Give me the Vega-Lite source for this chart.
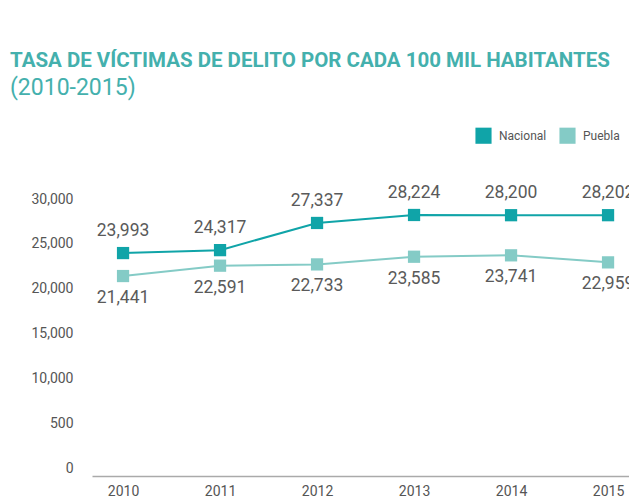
{
  "$schema": "https://vega.github.io/schema/vega-lite/v6.json",
  "width": 537,
  "height": 277,
  "autosize": "none",
  "padding": {"left": 92, "top": 199, "right": 0, "bottom": 26},
  "background": "white",
  "title": {
    "text": "TASA DE VÍCTIMAS DE DELITO POR CADA 100 MIL HABITANTES",
    "subtitle": "(2010-2015)",
    "anchor": "start",
    "frame": "group",
    "dx": -82,
    "offset": 27,
    "font": "Roboto",
    "fontSize": 20.5,
    "fontWeight": "bold",
    "color": "#44b0ad",
    "subtitleFont": "Roboto",
    "subtitleFontSize": 23,
    "subtitleColor": "#44b0ad",
    "subtitlePadding": 6
  },
  "data": {
    "values": [
      {"year": 2010, "serie": "Nacional", "value": 23993},
      {"year": 2011, "serie": "Nacional", "value": 24317},
      {"year": 2012, "serie": "Nacional", "value": 27337},
      {"year": 2013, "serie": "Nacional", "value": 28224},
      {"year": 2014, "serie": "Nacional", "value": 28200},
      {"year": 2015, "serie": "Nacional", "value": 28202},
      {"year": 2010, "serie": "Puebla", "value": 21441},
      {"year": 2011, "serie": "Puebla", "value": 22591},
      {"year": 2012, "serie": "Puebla", "value": 22733},
      {"year": 2013, "serie": "Puebla", "value": 23585},
      {"year": 2014, "serie": "Puebla", "value": 23741},
      {"year": 2015, "serie": "Puebla", "value": 22959}
    ]
  },
  "encoding": {
    "x": {
      "field": "year",
      "type": "quantitative",
      "scale": {"domain": [2009.68, 2015.216], "nice": false, "zero": false},
      "axis": {
        "values": [2010, 2011, 2012, 2013, 2014, 2015],
        "format": "d",
        "title": null,
        "ticks": false,
        "grid": false,
        "domainColor": "#aaaaaa",
        "domainWidth": 1.5,
        "labelFont": "Roboto",
        "labelFontSize": 14,
        "labelColor": "#555555",
        "labelPadding": 8
      }
    },
    "y": {
      "field": "value",
      "type": "quantitative",
      "scale": {"domain": [-778, 30000], "nice": false, "zero": false},
      "axis": {
        "values": [0, 5000, 10000, 15000, 20000, 25000, 30000],
        "labelExpr": "datum.value == 5000 ? '500' : format(datum.value, ',')",
        "title": null,
        "ticks": false,
        "domain": false,
        "grid": false,
        "labelFont": "Roboto",
        "labelFontSize": 14,
        "labelColor": "#555555",
        "labelPadding": 19
      }
    },
    "color": {
      "field": "serie",
      "type": "nominal",
      "scale": {"domain": ["Nacional", "Puebla"], "range": ["#10a4a8", "#84cbc6"]},
      "legend": {
        "title": null,
        "orient": "none",
        "legendX": 383,
        "legendY": -72,
        "direction": "horizontal",
        "symbolType": "square",
        "symbolSize": 260,
        "symbolStrokeWidth": 0,
        "labelFont": "Roboto",
        "labelFontSize": 12,
        "labelColor": "#555555",
        "columnPadding": 12,
        "labelOffset": 7
      }
    }
  },
  "layer": [
    {"mark": {"type": "line", "strokeWidth": 2}, "encoding": {"detail": {"field": "serie"}}},
    {"mark": {"type": "point", "shape": "square", "filled": true, "opacity": 1, "size": 150}},
    {
      "transform": [{"filter": "datum.serie == 'Nacional'"}],
      "mark": {"type": "text", "dy": -22, "font": "Roboto", "fontSize": 17.5},
      "encoding": {"text": {"field": "value", "format": ","}, "color": {"value": "#5a5a5a"}}
    },
    {
      "transform": [{"filter": "datum.serie == 'Puebla'"}],
      "mark": {"type": "text", "dy": 22, "font": "Roboto", "fontSize": 17.5},
      "encoding": {"text": {"field": "value", "format": ","}, "color": {"value": "#5a5a5a"}}
    }
  ],
  "config": {"view": {"stroke": null}}
}
